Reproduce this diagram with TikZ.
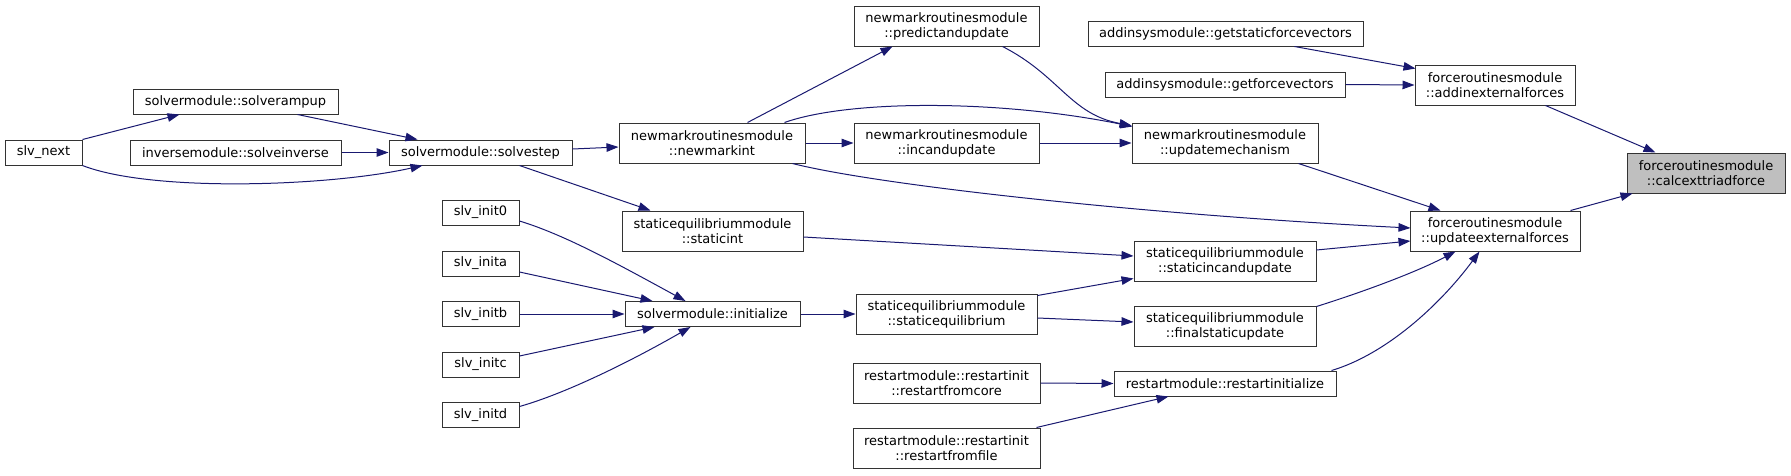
\documentclass[tikz,border=0pt]{standalone}
\usepackage{fontspec}
\setmainfont{DejaVu Sans}
\usetikzlibrary{arrows.meta,calc}
\definecolor{edgecol}{HTML}{191970}
\definecolor{rootfill}{HTML}{BFBFBF}
\definecolor{boxline}{HTML}{333333}
\tikzset{
  box/.style={draw=boxline, fill=white, inner sep=0pt, align=center,
    font=\fontsize{9.75}{11.25}\selectfont, line width=0.75pt},
  wh/.style 2 args={minimum width=#1*0.75pt, minimum height=#2*0.75pt},
  call/.style={draw=edgecol, line width=0.75pt,
    -{Triangle[length=9pt,width=6.4pt]}, edgecol}
}
\begin{document}
\begin{tikzpicture}[x=0.75pt,y=-0.75pt]
\useasboundingbox (0,0) rectangle (1791,475);
% nodes
\node[box, wh={77}{25}] (slvnext) at (43.5,152.5) {slv\_next};
\node[box, wh={205}{25}] (ramp) at (235.5,101.5) {solvermodule::solverampup};
\node[box, wh={211}{25}] (inverse) at (235.5,152.5) {inversemodule::solveinverse};
\node[box, wh={183}{25}] (step) at (480.5,152.5) {solvermodule::solvestep};
\node[box, wh={186}{40}] (nmint) at (712,143) {newmarkroutinesmodule\\::newmarkint};
\node[box, wh={185}{40}] (predict) at (946.5,26) {newmarkroutinesmodule\\::predictandupdate};
\node[box, wh={185}{40}] (incupd) at (946.5,143) {newmarkroutinesmodule\\::incandupdate};
\node[box, wh={186}{40}] (updmech) at (1225,143) {newmarkroutinesmodule\\::updatemechanism};
\node[box, wh={275}{25}] (getstatic) at (1225.5,33.5) {addinsysmodule::getstaticforcevectors};
\node[box, wh={240}{25}] (getforce) at (1225,84.5) {addinsysmodule::getforcevectors};
\node[box, wh={160}{40}] (addext) at (1495,85) {forceroutinesmodule\\::addinexternalforces};
\node[box, wh={158}{40}, fill=rootfill] (calc) at (1706,173) {forceroutinesmodule\\::calcexttriadforce};
\node[box, wh={170}{40}] (updext) at (1495,231) {forceroutinesmodule\\::updateexternalforces};
\node[box, wh={181}{40}] (staticint) at (712.5,231) {staticequilibriummodule\\::staticint};
\node[box, wh={182}{40}] (sincupd) at (1225,261) {staticequilibriummodule\\::staticincandupdate};
\node[box, wh={182}{40}] (finalst) at (1225,326) {staticequilibriummodule\\::finalstaticupdate};
\node[box, wh={181}{40}] (steq) at (946.5,314) {staticequilibriummodule\\::staticequilibrium};
\node[box, wh={175}{25}] (init) at (712.5,314) {solvermodule::initialize};
\node[box, wh={77}{25}] (init0) at (480.5,212.5) {slv\_init0};
\node[box, wh={77}{25}] (inita) at (480.5,263.5) {slv\_inita};
\node[box, wh={77}{25}] (initb) at (480.5,314) {slv\_initb};
\node[box, wh={77}{25}] (initc) at (480.5,364.5) {slv\_initc};
\node[box, wh={77}{25}] (initd) at (480.5,415) {slv\_initd};
\node[box, wh={187}{40}] (rcore) at (946.5,383) {restartmodule::restartinit\\::restartfromcore};
\node[box, wh={187}{40}] (rfile) at (946.5,448) {restartmodule::restartinit\\::restartfromfile};
\node[box, wh={222}{25}] (rinit) at (1225,383.5) {restartmodule::restartinitialize};
% edges
\draw[call] (slvnext.north east) -- ($(ramp.south west)+(47,0)$);
\draw[call] (slvnext.south east) .. controls +(69,27) and +(-93,21) .. ($(step.south west)+(34,0)$);
\draw[call] ($(ramp.south west)+(165,0)$) -- ($(step.north west)+(29,0)$);
\draw[call] (inverse.east) -- (step.west);
\draw[call] ($(step.east)+(0,-3.5)$) -- ($(nmint.west)+(0,4)$);
\draw[call] ($(step.south west)+(131,0)$) -- ($(staticint.north west)+(29,0)$);
\draw[call] ($(nmint.north west)+(129,0)$) -- ($(predict.south west)+(39,0)$);
\draw[call] (nmint.east) -- (incupd.west);
\draw[call] ($(nmint.north west)+(166,0)$) .. controls +(65,-23) and +(-133,-27) .. ($(updmech.north west)+(1,4)$);
\draw[call] ($(nmint.south west)+(174,0)$) .. controls +(87,22) and +(-261,-13) .. ($(updext.west)+(1,-3)$);
\draw[call] ($(predict.south west)+(149,0)$) .. controls +(57,29) and +(-61,-11) .. ($(updmech.north west)+(0,3)$);
\draw[call] (incupd.east) -- (updmech.west);
\draw[call] ($(updmech.south east)+(-20,0)$) -- ($(updext.north west)+(31,0)$);
\draw[call] ($(getstatic.south east)+(-69,0)$) -- ($(addext.north west)+(1,4)$);
\draw[call] (getforce.east) -- (addext.west);
\draw[call] ($(addext.south east)+(-30,0)$) -- ($(calc.north west)+(29,0)$);
\draw[call] ($(updext.north east)+(-10,0)$) -- ($(calc.south west)+(6,0)$);
\draw[call] ($(staticint.east)+(0,6)$) -- ($(sincupd.west)+(0,-5)$);
\draw[call] ($(sincupd.east)+(0,-11)$) -- ($(updext.west)+(1,10)$);
\draw[call] ($(steq.north east)+(0,2)$) -- ($(sincupd.south west)+(0,-3)$);
\draw[call] ($(steq.east)+(0,4)$) -- ($(finalst.west)+(0,-4)$);
\draw[call] ($(finalst.north east)+(0,1)$) .. controls +(54,-17) and +(-36,19) .. ($(updext.south west)+(46,0)$);
\draw[call] ($(rinit.north east)+(-5,0)$) .. controls +(54,-16) and +(-40,54) .. ($(updext.south west)+(70,0)$);
\draw[call] (rcore.east) -- (rinit.west);
\draw[call] ($(rfile.north east)+(-4,0)$) -- ($(rinit.south west)+(55,0)$);
\draw[call] ($(init0.east)+(0,8.5)$) .. controls +(46,14) and +(-66,-36) .. ($(init.north west)+(61,0)$);
\draw[call] ($(inita.east)+(0,8.5)$) -- ($(init.north west)+(28,0)$);
\draw[call] (initb.east) -- (init.west);
\draw[call] ($(initc.east)+(0,-8.5)$) -- ($(init.south west)+(30,0)$);
\draw[call] ($(initd.east)+(0,-8.5)$) .. controls +(46,-13) and +(-61,35) .. ($(init.south west)+(66,0)$);
\draw[call] (init.east) -- (steq.west);
\end{tikzpicture}
\end{document}
